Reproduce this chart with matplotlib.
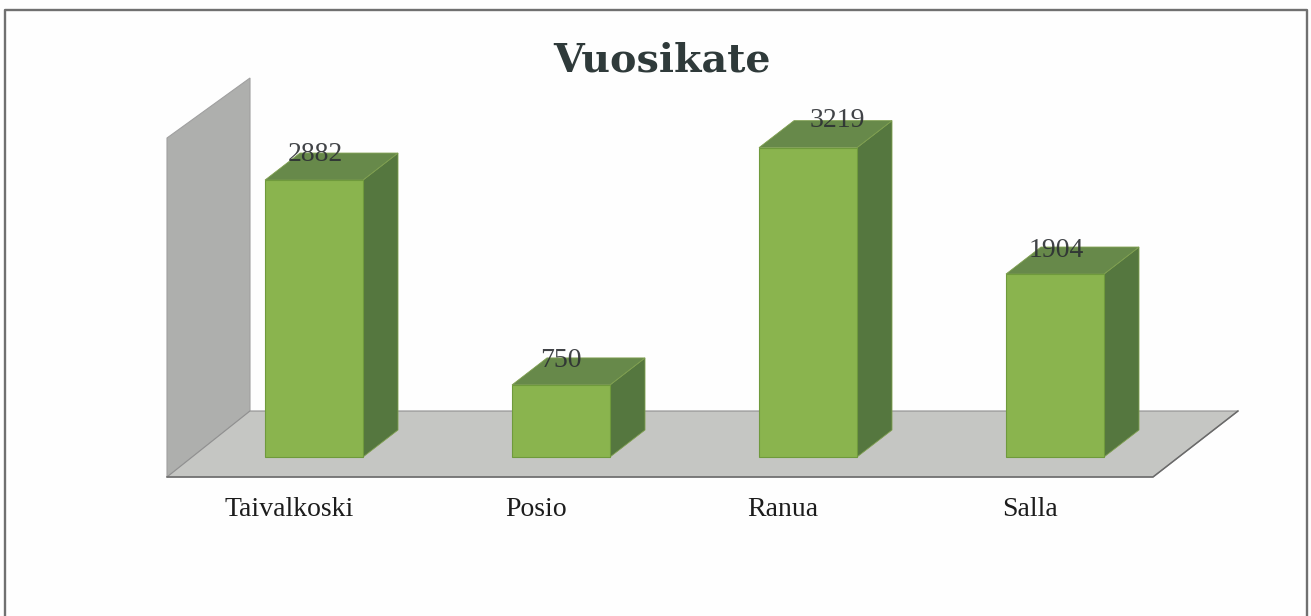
import matplotlib
matplotlib.use("Agg")
import matplotlib.pyplot as plt
from matplotlib.patches import Polygon, Rectangle

# dati
kunnat = ["Taivalkoski", "Posio", "Ranua", "Salla"]
vuosikate = [2882, 750, 3219, 1904]

W, H = 1311, 616
PX_X = 247.0       # pixel per categoria
PX_Y = 0.0961      # pixel per unita
X0_PX, Y0_PX = 314, 457

# spostamenti delle etichette in pixel
label_dx = [1, 0, 29, 1]
label_dy = [26, 24, 27, 24]

plt.rcParams["font.family"] = ["Liberation Serif", "DejaVu Serif"]

fig = plt.figure(figsize=(W / 100, H / 100), dpi=100, facecolor="#fefefe")
ax = fig.add_axes([0, 0, 1, 1])
ax.set_xlim(-X0_PX / PX_X, (W - X0_PX) / PX_X)
ax.set_ylim(-(H - Y0_PX) / PX_Y, Y0_PX / PX_Y)
ax.axis("off")

# profondita 3D e larghezza barre, in unita dati
dx = 35 / PX_X
dy = 27 / PX_Y
bw = 98 / PX_X


def xp(px):
    return (px - X0_PX) / PX_X


def yp(px):
    return (Y0_PX - px) / PX_Y


# cornice, aperta in basso
ax.plot([xp(4.5), xp(4.5), xp(1307), xp(1307)], [yp(616), yp(9.5), yp(9.5), yp(616)], color="#707070", lw=1.7)

# parete e pavimento
ax.add_patch(Polygon([(xp(167), yp(477)), (xp(167), yp(138)), (xp(250), yp(78)), (xp(250), yp(411))],
                     fc="#aeafad", ec="#a0a0a0", lw=0.8))
ax.add_patch(Polygon([(xp(167), yp(477)), (xp(250), yp(411)), (xp(1238), yp(411)), (xp(1153), yp(477))],
                     fc="#c5c6c3", ec="#909090", lw=0.8))
ax.plot([xp(167), xp(1153), xp(1238)], [yp(477), yp(477), yp(411)], color="#6a6a6a", lw=1.1)

# barre
for i, (nome, v) in enumerate(zip(kunnat, vuosikate)):
    l = i - bw / 2
    r = i + bw / 2
    ax.add_patch(Polygon([(r, 0), (r + dx, dy), (r + dx, v + dy), (r, v)], fc="#55773f", ec="#7f9f4f", lw=0.6))
    ax.add_patch(Polygon([(l, v), (r, v), (r + dx, v + dy), (l + dx, v + dy)], fc="#67894a", ec="#7f9f4f", lw=0.6))
    ax.add_patch(Rectangle((l, 0), bw, v, fc="#8ab44e", ec="#6f9a3c", lw=0.8))
    ax.text(i + label_dx[i] / PX_X, v + label_dy[i] / PX_Y, str(v), ha="center", va="center",
            fontsize=20, color="#2c2f33", alpha=0.9)
    ax.text(i - 25 / PX_X, yp(509), nome, ha="center", va="center", fontsize=20, color="#1c1c1c")

ax.text(xp(662), yp(61), "Vuosikate", ha="center", va="center", fontsize=28.5, fontweight="bold",
        family="DejaVu Serif", color="#2f3a3a")

fig.savefig("out.png", dpi=100, facecolor=fig.get_facecolor())
